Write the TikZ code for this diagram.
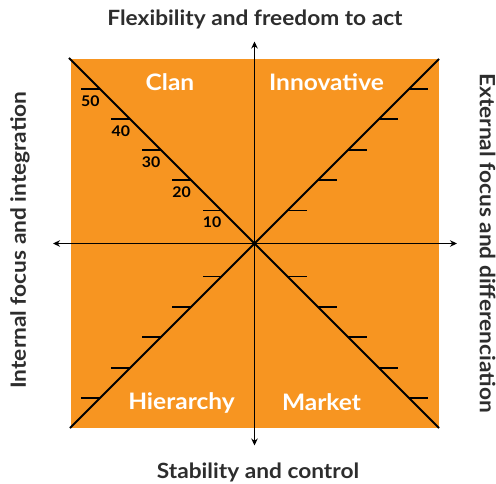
\documentclass[tikz,border=0pt]{standalone}
\usepackage{fontspec}
\setmainfont{Lato}[FakeStretch=1.08]
\usetikzlibrary{arrows.meta,calc}
\definecolor{qorange}{RGB}{247,149,33}
\definecolor{ttext}{RGB}{45,45,45}
\begin{document}
\begin{tikzpicture}[x=1pt,y=-1pt,
  axis/.style={line width=1.8pt,{Stealth[length=7pt,width=6.5pt]}-{Stealth[length=7pt,width=6.5pt]}},
  diag/.style={line width=2pt},
  tick/.style={line width=1.8pt},
  quad/.style={text=white,font=\fontsize{22.7}{26}\selectfont\bfseries},
  title/.style={text=ttext,font=\fontsize{21}{25}\selectfont\bfseries},
  num/.style={text=black,font=\fontsize{14.7}{17}\selectfont\bfseries,inner sep=0pt}]
\useasboundingbox (0,0) rectangle (496,484);
\fill[qorange] (71,59) rectangle (439,428);
\coordinate (c) at (254.5,243.5);
\coordinate (tl) at (69,58);
\coordinate (tr) at (439,59);
\coordinate (bl) at (70,428);
\coordinate (br) at (439,428);
\coordinate (top) at (254.5,41.5);
\coordinate (bot) at (254.5,445.5);
\coordinate (lft) at (53,243.5);
\coordinate (rgt) at (457,243.5);
\draw[diag] (tl) -- (br);
\draw[diag] (bl) -- (tr);
\draw[axis] (bot) -- (top);
\draw[axis] (lft) -- (rgt);
\foreach \k/\lab in {0/10,1/20,2/30,3/40,4/50}{
  \pgfmathsetmacro{\d}{33+30.4*\k}
  \coordinate (a\k) at (254.5-\d,243.5-\d);
  \draw[tick] (a\k) -- ++(-19,0) coordinate (a\k e);
  \node[num] (n\k) at ($(a\k)+(-9.5,12)$) {\lab};
  \coordinate (b\k) at (254.5+\d,243.5-\d);
  \draw[tick] (b\k) -- ++(19,0);
  \coordinate (d\k) at (254.5-\d,243.5+\d);
  \draw[tick] (d\k) -- ++(-19,0);
  \coordinate (e\k) at (254.5+\d,243.5+\d);
  \draw[tick] (e\k) -- ++(19,0);
}
\node[quad] (clan) at (170,82) {Clan};
\node[quad] (innov) at (326.5,82) {Innovative};
\node[quad] (hier) at (181.5,402.5) {Hierarchy};
\node[quad] (mark) at (321.5,402.5) {Market};
\node[title] (ttop) at (255,19) {Flexibility and freedom to act};
\node[title] (tbot) at (258,472) {Stability and control};
\node[title,rotate=90] (tlft) at (20,240) {Internal focus and integration};
\node[title,rotate=-90] (trgt) at (487.5,243) {External focus and differenciation};
\end{tikzpicture}
\end{document}
